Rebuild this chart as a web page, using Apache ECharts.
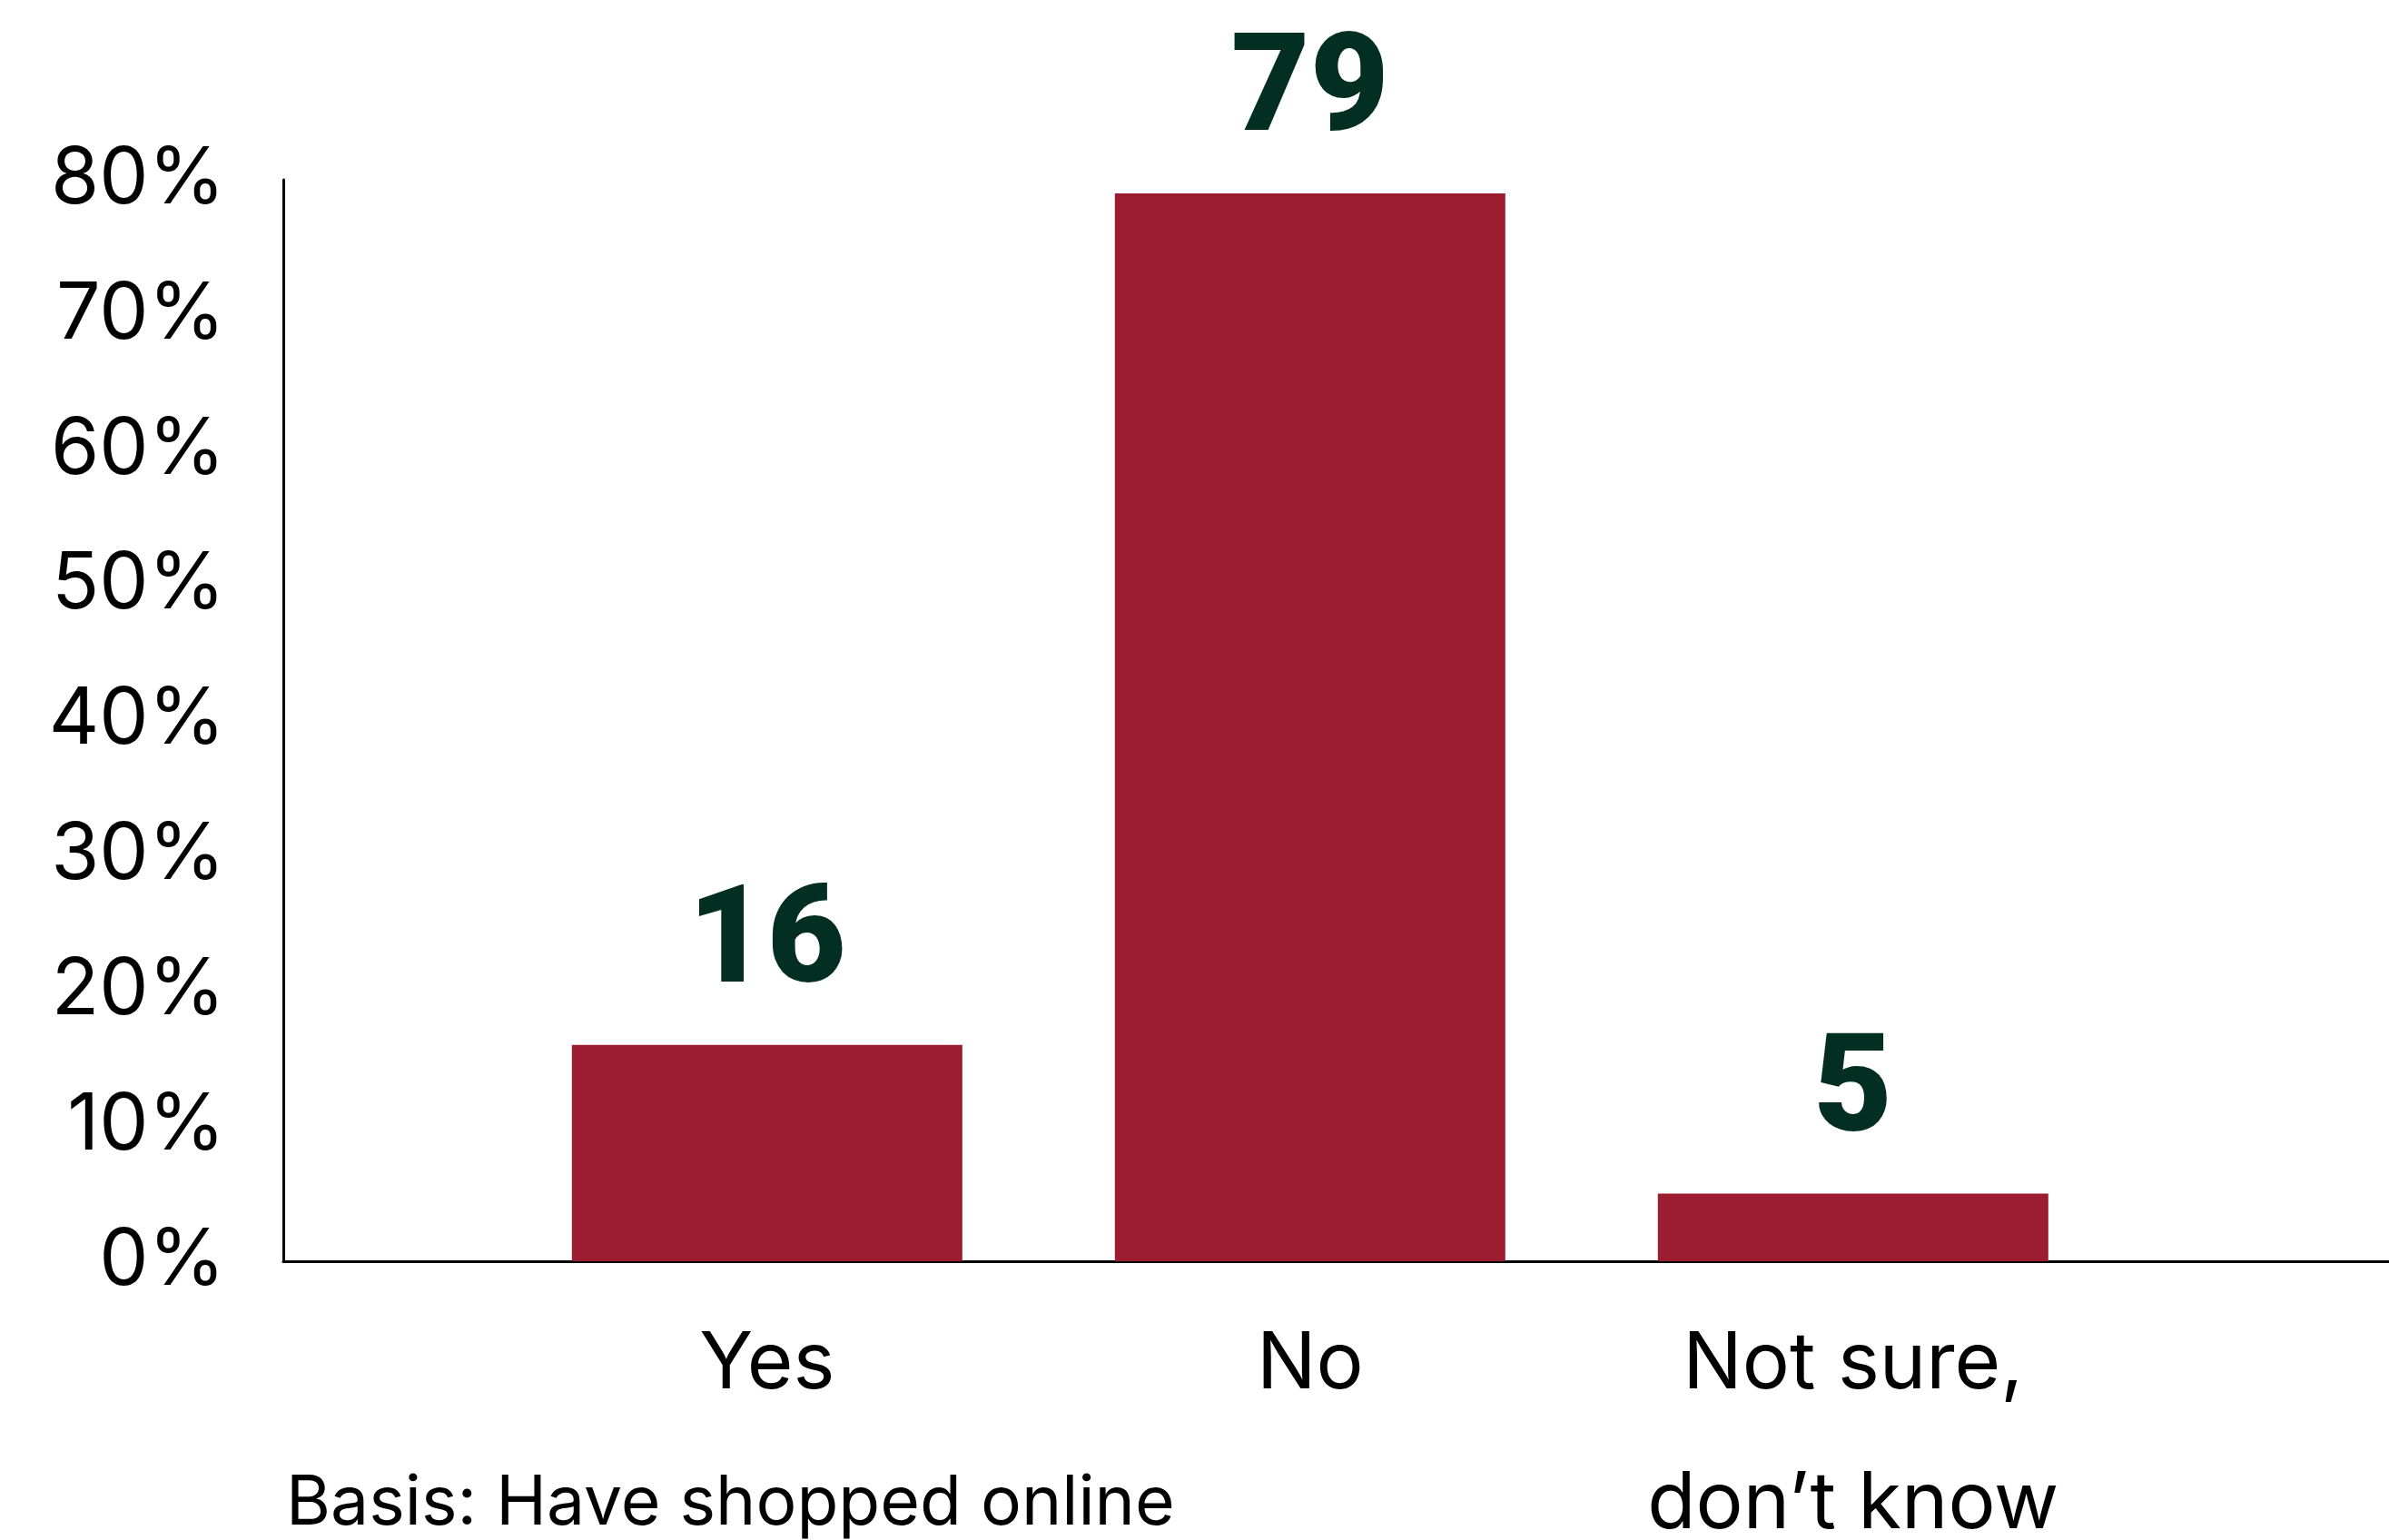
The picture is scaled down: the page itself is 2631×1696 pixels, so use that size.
<!DOCTYPE html>
<html>
<head>
<meta charset="utf-8">
<script src="https://cdn.jsdelivr.net/npm/echarts@6/dist/echarts.min.js"></script>
<style>
  html, body { margin: 0; padding: 0; background: #fff; }
  #chart { width: 2631px; height: 1696px; }
</style>
</head>
<body>
<div id="chart"></div>
<script>
// Survey answers and their shares (%)
const categories = ['Yes', 'No', 'Not sure,\ndon\u2019t know'];
const shares = [16, 79, 5];
const yTicks = [0, 10, 20, 30, 40, 50, 60, 70, 80];
const footnote = 'Basis: Have shopped online';

const BAR = '#9b1d2f';
const LABEL = '#032f22';
const FONT = 'Inter, "Noto Sans", sans-serif';

// Categories sit at positions 1..n on a numeric x axis
const positions = categories.map((_, i) => i + 1);
const barData = shares.map((v, i) => [positions[i], v]);

const chart = echarts.init(document.getElementById('chart'));
chart.setOption({
  backgroundColor: '#ffffff',
  animation: false,
  title: {
    text: footnote,
    left: 310,
    top: 1614,
    textStyle: { fontFamily: FONT, fontSize: 75, fontWeight: 400, color: '#000' }
  },
  grid: {
    left: 312, right: 0, top: 198, bottom: 307,
    containLabel: false,
    outerBoundsMode: 'none'
  },
  xAxis: {
    type: 'value',
    min: 0.109,
    max: 3.987,
    splitLine: { show: false },
    axisTick: { show: false },
    axisLine: { show: true, onZero: false, lineStyle: { color: '#000', width: 3 } },
    axisLabel: {
      customValues: positions,
      formatter: (v) => categories[Math.round(v) - 1] || '',
      fontFamily: FONT,
      fontSize: 87,
      lineHeight: 154,
      color: '#000',
      margin: 37,
      align: 'center',
      verticalAlign: 'top'
    }
  },
  yAxis: {
    type: 'value',
    min: yTicks[0],
    max: yTicks[yTicks.length - 1],
    interval: 10,
    splitLine: { show: false },
    axisTick: { show: false },
    axisLine: { show: true, lineStyle: { color: '#000', width: 3 } },
    axisLabel: {
      formatter: '{value}%',
      fontFamily: FONT,
      fontSize: 86,
      color: '#000',
      margin: 64
    }
  },
  series: [{
    type: 'bar',
    data: barData,
    barWidth: 430,
    itemStyle: { color: BAR },
    label: {
      show: true,
      position: 'top',
      distance: 32,
      formatter: (p) => String(p.value[1]),
      fontFamily: 'Roboto, sans-serif',
      fontWeight: 900,
      fontSize: 150,
      color: LABEL
    }
  }]
});
</script>
</body>
</html>
